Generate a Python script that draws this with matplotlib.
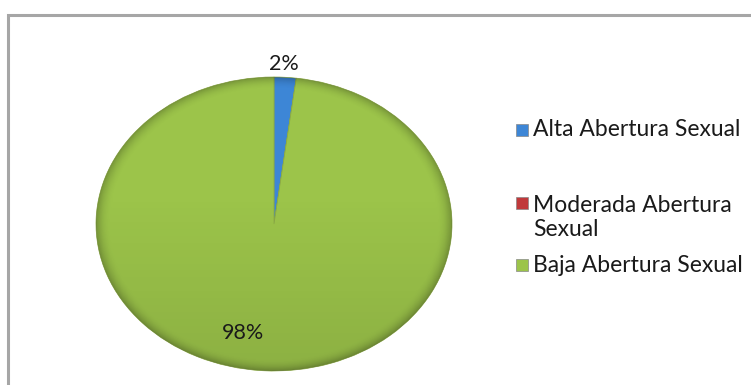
import matplotlib
matplotlib.use('Agg')
import matplotlib.pyplot as plt
import matplotlib.patches as mpatches
import numpy as np

# data
categories = ['Alta Abertura Sexual', 'Moderada Abertura Sexual', 'Baja Abertura Sexual']
legend_labels = ['Alta Abertura Sexual', 'Moderada Abertura\nSexual', 'Baja Abertura Sexual']
values = [2, 0, 98]
colors = ['#3d86d6', '#c0393b', '#9cc44a']

W, H = 751, 385
plt.rcParams['font.family'] = ['Lato', 'DejaVu Sans']

fig = plt.figure(figsize=(W / 100, H / 100), dpi=100)
fig.patch.set_facecolor('white')

# chart-area border (runs off the right and bottom edges)
fig.patches.append(mpatches.Rectangle((8 / W, -0.05), 1.1, (H - 15) / H + 0.05,
                                      transform=fig.transFigure, fill=False,
                                      edgecolor='#a6a6a6', linewidth=2.2))

# pie, stretched into an ellipse
ax = fig.add_axes([96 / W, (H - 371) / H, 356 / W, 294 / H])
wedges, _ = ax.pie(values, colors=colors, startangle=90, counterclock=False,
                   wedgeprops=dict(edgecolor='#8aa844', linewidth=0.5))
ax.set_aspect('auto')
ax.set_xlim(-1, 1)
ax.set_ylim(-1, 1)
ax.axis('off')

# soft shading: darker toward the bottom and the rim
ny, nx = 300, 300
yy, xx = np.mgrid[1:-1:ny * 1j, -1:1:nx * 1j]
rr = np.sqrt(xx ** 2 + yy ** 2)
shade = np.zeros((ny, nx, 4))
alpha = 0.10 * np.clip((-yy + 0.2) / 1.2, 0, 1) + 0.22 * np.clip((rr - 0.92) / 0.08, 0, 1) ** 2
shade[..., 3] = np.clip(alpha, 0, 0.3)
img = ax.imshow(shade, extent=(-1, 1, -1, 1), aspect='auto', zorder=3)
img.set_clip_path(mpatches.Ellipse((0, 0), 2, 2, transform=ax.transData))

# percentage labels
total = sum(values)
pct = [f'{v / total * 100:.0f}%' for v in values]
label_pos = [(0.056, 1.09), None, (-0.175, -0.74)]
for p, pos in zip(pct, label_pos):
    if pos is None:
        continue
    ax.text(pos[0], pos[1], p, ha='center', va='center', fontsize=15.5,
            color='#1a1a1a', zorder=5, clip_on=False)

# legend
legend_y = [130, 203, 265]
for lab, c, y in zip(legend_labels, colors, legend_y):
    fig.patches.append(mpatches.Rectangle((516 / W, (H - y - 6) / H), 12 / W, 12 / H,
                                          transform=fig.transFigure, facecolor=c,
                                          edgecolor='#888888', linewidth=0.5))
    if '\n' in lab:
        fig.text(533 / W, (H - y + 8) / H, lab, ha='left', va='top',
                 fontsize=16.5, color='#1a1a1a', linespacing=1.15)
    else:
        fig.text(533 / W, (H - y) / H, lab, ha='left', va='center',
                 fontsize=16.5, color='#1a1a1a')

plt.savefig('out.png', dpi=100)
